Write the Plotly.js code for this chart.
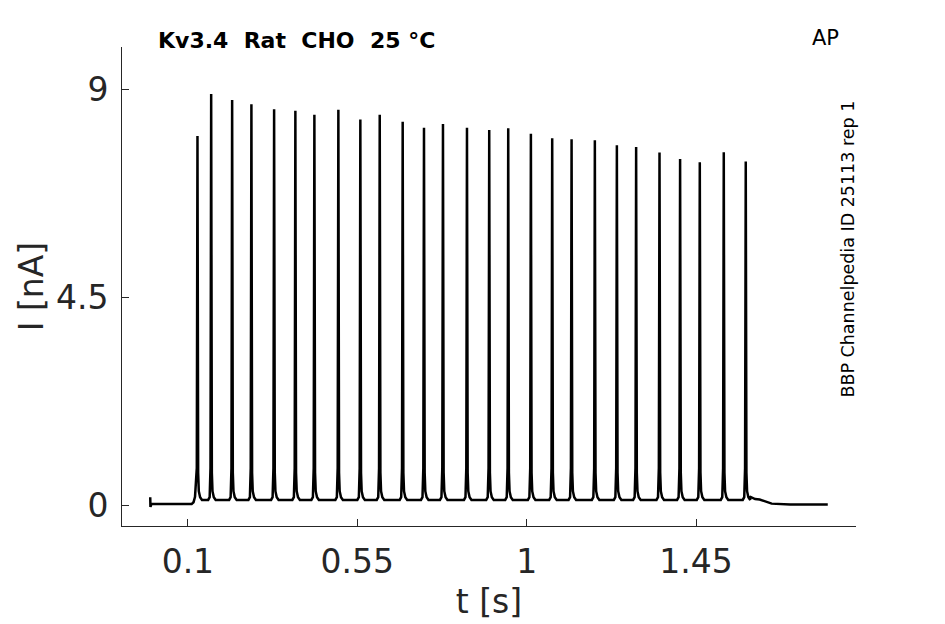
<!DOCTYPE html>
<html>
<head>
<meta charset="utf-8">
<script src="https://cdn.plot.ly/plotly-3.0.1.min.js"></script>
<style>html,body{margin:0;padding:0;background:#fff;}#chart{width:945px;height:624px;}</style>
</head>
<body>
<div id="chart"></div>
<script>
// Spike peak times (s) and peak currents (nA)
const spikeTimes = [0.1255, 0.1619, 0.2176, 0.2688, 0.3291, 0.3856, 0.4361, 0.4998, 0.5582, 0.6097,
                    0.6707, 0.7273, 0.7777, 0.8415, 0.9006, 0.9511, 1.0113, 1.0679, 1.1194, 1.1812,
                    1.2397, 1.2909, 1.3530, 1.4077, 1.4600, 1.5237, 1.5821];
const spikePeaks = [8.00, 8.91, 8.78, 8.69, 8.58, 8.55, 8.46, 8.57, 8.36, 8.46,
                    8.31, 8.18, 8.26, 8.18, 8.13, 8.17, 8.05, 7.95, 7.93, 7.91,
                    7.80, 7.76, 7.64, 7.50, 7.43, 7.65, 7.45];
// Shape of each spike around its peak: time offsets (s) and currents (nA); null = the peak value
const spikeShapeDt = [-0.008, -0.004, -0.0018, 0, 0.0018, 0.0035, 0.007, 0.012];
const spikeShapeI  = [0.11, 0.17, 0.80, null, 0.70, 0.30, 0.17, 0.11];
// Pre-stimulus segment
const preT = [0.000, 0.0006, 0.003, 0.110, 0.115, 0.119];
const preI = [0.17, -0.04, 0.02, 0.02, 0.06, 0.18];
// Post-stimulus tail
const postT = [1.593, 1.607, 1.619, 1.636, 1.651, 1.700, 1.800];
const postI = [0.18, 0.13, 0.12, 0.07, 0.03, 0.01, 0.01];

const xTicks = [0.1, 0.55, 1, 1.45];
const xTickText = ['0.1', '0.55', '1', '1.45'];
const yTicks = [0, 4.5, 9];
const yTickText = ['0', '4.5', '9'];

const t = [], I = [];
preT.forEach((v, i) => { t.push(v); I.push(preI[i]); });
spikeTimes.forEach((st, k) => {
  spikeShapeDt.forEach((dt, j) => {
    if (k === 0 && dt < -0.002) return;
    t.push(st + dt);
    I.push(spikeShapeI[j] === null ? spikePeaks[k] : spikeShapeI[j]);
  });
});
postT.forEach((v, i) => { t.push(v); I.push(postI[i]); });

const font = 'DejaVu Sans, sans-serif';
const axisCol = '#262626';

const trace = {
  x: t, y: I, type: 'scatter', mode: 'lines',
  line: {color: '#000000', width: 2.5},
  hoverinfo: 'skip'
};

const layout = {
  width: 945, height: 624,
  margin: {l: 122, r: 89, t: 47, b: 98},
  paper_bgcolor: '#ffffff', plot_bgcolor: '#ffffff',
  showlegend: false,
  xaxis: {
    range: [-0.075, 1.875],
    tickvals: xTicks, ticktext: xTickText,
    ticks: 'inside', ticklen: 7, tickwidth: 1, tickcolor: axisCol,
    showline: true, linecolor: axisCol, linewidth: 1,
    showgrid: false, zeroline: false,
    ticklabelstandoff: 6,
    tickfont: {family: font, size: 33, color: axisCol},
    title: {text: 't [s]', font: {family: font, size: 33, color: axisCol}, standoff: 10}
  },
  yaxis: {
    range: [-0.455, 9.93],
    tickvals: yTicks, ticktext: yTickText,
    ticks: 'inside', ticklen: 7, tickwidth: 1, tickcolor: axisCol,
    showline: true, linecolor: axisCol, linewidth: 1,
    showgrid: false, zeroline: false,
    ticklabelstandoff: 6,
    tickfont: {family: font, size: 33, color: axisCol},
    title: {text: 'I [nA]', font: {family: font, size: 33, color: axisCol}, standoff: 2}
  },
  annotations: [
    {text: '<b>Kv3.4\u00a0\u00a0Rat\u00a0\u00a0CHO\u00a0\u00a025 °C</b>', xref: 'paper', yref: 'paper',
     x: 0.047, y: 1.0146, xanchor: 'left', yanchor: 'middle', showarrow: false,
     font: {family: font, size: 22, color: '#000000'}},
    {text: 'AP', xref: 'paper', yref: 'paper', x: 0.958, y: 1.019, xanchor: 'center', yanchor: 'middle',
     showarrow: false, font: {family: font, size: 21, color: '#000000'}},
    {text: 'BBP Channelpedia ID 25113 rep 1', xref: 'paper', yref: 'paper', x: 0.989, y: 0.579,
     xanchor: 'center', yanchor: 'middle', textangle: -90, showarrow: false,
     font: {family: font, size: 17.5, color: '#000000'}}
  ]
};

Plotly.newPlot('chart', [trace], layout, {displayModeBar: false, staticPlot: true});
</script>
</body>
</html>
